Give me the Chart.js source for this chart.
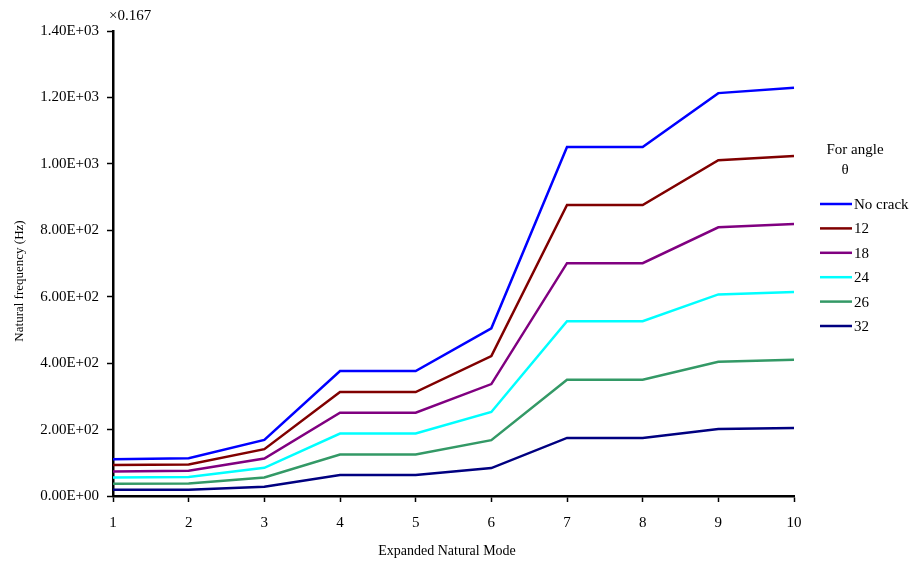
<!DOCTYPE html>
<html>
<head>
<meta charset="utf-8">
<script src="https://cdn.jsdelivr.net/npm/chart.js@4/dist/chart.umd.min.js"></script>
<style>
  body { margin: 0; background: #fff; }
  #wrap { width: 916px; height: 563px; }
</style>
</head>
<body>
<div id="wrap"><canvas id="freqChart" width="916" height="563"></canvas></div>
<script>
const modes = ['1', '2', '3', '4', '5', '6', '7', '8', '9', '10'];

const noCrack = [111, 114, 169, 376, 376, 505, 1051, 1051, 1213, 1229];
const angle12 = [93, 95, 141, 313, 313, 421, 876, 876, 1011, 1024];
const angle18 = [74, 76, 113, 251, 251, 337, 701, 701, 809, 819];
const angle24 = [56, 57, 85, 188, 188, 253, 526, 526, 607, 614];
const angle26 = [37, 38, 56, 125, 125, 168, 350, 350, 404, 410];
const angle32 = [19, 19, 28, 63, 63, 84, 175, 175, 202, 205];

const seriesNames = ['No crack', '12', '18', '24', '26', '32'];
const seriesColors = ['#0000ff', '#800000', '#800080', '#00ffff', '#339966', '#000080'];
const seriesData = [noCrack, angle12, angle18, angle24, angle26, angle32];

const FONT = '"Liberation Serif", "DejaVu Serif", serif';

// 1.40E+03 style labels
function sciLabel(v) {
    if (v === 0) return '0.00E+00';
    const exp = Math.floor(Math.log10(Math.abs(v)));
    const mant = v / Math.pow(10, exp);
    const sign = exp < 0 ? '-' : '+';
    return mant.toFixed(2) + 'E' + sign + String(Math.abs(exp)).padStart(2, '0');
}

const extraText = {
    id: 'extraText',
    afterDraw(chart) {
        const { ctx, chartArea: { left } } = chart;
        ctx.save();
        ctx.fillStyle = '#000';
        ctx.textBaseline = 'middle';

        // multiplier note above the y axis
        ctx.font = '15px ' + FONT;
        ctx.textAlign = 'left';
        ctx.fillText('\u00d70.167', left - 4, 16);

        // axis titles
        ctx.font = '14px ' + FONT;
        ctx.textAlign = 'center';
        ctx.fillText('Expanded Natural Mode', 447, 551);
        ctx.save();
        ctx.translate(20, 281);
        ctx.rotate(-Math.PI / 2);
        ctx.font = '13px ' + FONT;
        ctx.fillText('Natural frequency (Hz)', 0, 0);
        ctx.restore();

        // legend title
        ctx.font = '15px ' + FONT;
        ctx.textAlign = 'center';
        ctx.fillText('For angle', 855, 150);
        ctx.fillText('\u03b8', 845, 170);

        // legend entries
        ctx.textAlign = 'left';
        seriesNames.forEach((name, i) => {
            const y = 204 + i * 24.4;
            ctx.strokeStyle = seriesColors[i];
            ctx.lineWidth = 2.5;
            ctx.beginPath();
            ctx.moveTo(820, y);
            ctx.lineTo(852, y);
            ctx.stroke();
            ctx.fillText(name, 854, y + 1);
        });
        ctx.restore();
    }
};

const datasets = seriesNames.map((name, i) => ({
    label: name,
    data: seriesData[i],
    borderColor: seriesColors[i],
    backgroundColor: seriesColors[i],
    borderWidth: 2.5,
    pointRadius: 0,
    tension: 0,
    fill: false,
}));

const chart = new Chart(document.getElementById('freqChart'), {
    type: 'line',
    data: { labels: modes, datasets: datasets },
    plugins: [extraText],
    options: {
        responsive: false,
        animation: false,
        layout: { padding: { left: 0, right: 122, top: 31, bottom: 0 } },
        plugins: {
            legend: { display: false },
            tooltip: { enabled: false },
        },
        scales: {
            x: {
                offset: false,
                grid: { display: true, drawOnChartArea: false, tickLength: 6, tickColor: '#000', tickWidth: 1.5 },
                border: { color: '#000', width: 2.5 },
                ticks: { color: '#000', padding: 12, maxRotation: 0, font: { family: FONT, size: 15 } },
                afterFit: (scale) => { scale.height = 67; },
            },
            y: {
                min: 0,
                max: 1400,
                grid: { display: true, drawOnChartArea: false, tickLength: 6, tickColor: '#000', tickWidth: 1.5 },
                border: { color: '#000', width: 2.5 },
                ticks: {
                    stepSize: 200,
                    color: '#000',
                    padding: 8,
                    font: { family: FONT, size: 15 },
                    callback: (v) => sciLabel(v),
                },
                afterFit: (scale) => { scale.width = 113; },
            },
        },
    },
});
</script>
</body>
</html>
